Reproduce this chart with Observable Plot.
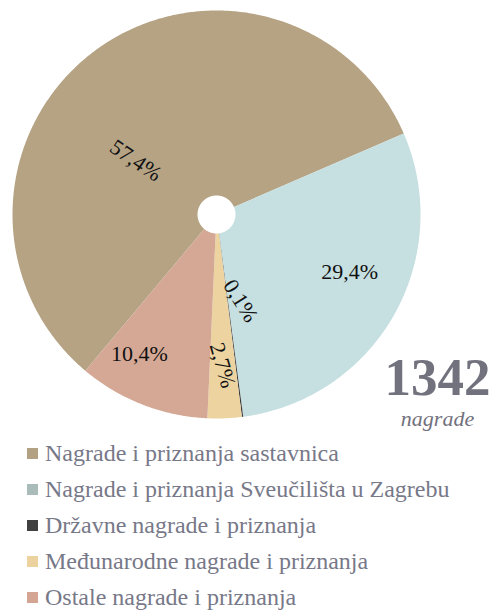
<!DOCTYPE html>
<html>
<head>
<meta charset="utf-8">
<script src="https://cdn.jsdelivr.net/npm/d3@7"></script>
<script src="https://cdn.jsdelivr.net/npm/@observablehq/plot@0.6"></script>
<style>
  html, body { margin: 0; padding: 0; background: #fff; }
  #chart { width: 491px; }
  .legend { font-family: "Liberation Serif", "Times New Roman", serif; font-size: 24px; color: #777888; padding-top: 0; }
  .legend .row { display: flex; align-items: center; height: 35.8px; }
  .legend .sw { width: 11px; height: 11px; margin-left: 27px; margin-right: 7px; flex: none; }
</style>
</head>
<body>
<div id="chart"></div>
<script>
// ---- data ----
const categories = [
  "Nagrade i priznanja sastavnica",
  "Nagrade i priznanja Sveučilišta u Zagrebu",
  "Državne nagrade i priznanja",
  "Međunarodne nagrade i priznanja",
  "Ostale nagrade i priznanja"
];
const values = [57.4, 29.4, 0.1, 2.7, 10.4];
const valueLabels = ["57,4%", "29,4%", "0,1%", "2,7%", "10,4%"];
const sliceColors = ["#b5a384", "#c6dfe0", "#3a3a3a", "#ecd3a0", "#d5a895"];
const legendColors = ["#b3a183", "#a9bcb9", "#404040", "#ebd29f", "#d4a592"];
const totalValue = "1342";
const totalLabel = "nagrade";

// ---- layout (not data) ----
const W = 491, H = 436;
const cx = 216, cy = 214, R = 204, holeR = 19;
const startAngle = 220; // degrees clockwise from north
// label placement: [angle (deg, clockwise from north), radius fraction, rotation]
const labelLayout = [[303.7, 0.476, 34], [113.2, 0.71, 0], [164.4, 0.44, 58], [177.7, 0.74, 74], [209, 0.78, 0]];

const total = d3.sum(values);
const rad = a => a * Math.PI / 180;
const pts = [];
let a0 = startAngle;
values.forEach((v, i) => {
  const a1 = a0 + v / total * 360;
  const steps = Math.max(2, Math.ceil((a1 - a0) / 0.5));
  for (let s = 0; s <= steps; s++) {
    const a = a0 + (a1 - a0) * s / steps;
    pts.push({cat: categories[i], color: sliceColors[i], x: Math.sin(rad(a)), y: Math.cos(rad(a))});
  }
  const r0 = holeR / R;
  for (let s = steps; s >= 0; s--) {
    const a = a0 + (a1 - a0) * s / steps;
    pts.push({cat: categories[i], color: sliceColors[i], x: r0 * Math.sin(rad(a)), y: r0 * Math.cos(rad(a))});
  }
  a0 = a1;
});

const labels = valueLabels.map((t, i) => {
  const [ang, rf, rot] = labelLayout[i];
  return {text: t, x: rf * Math.sin(rad(ang)), y: rf * Math.cos(rad(ang)), rotate: rot};
});

const plot = Plot.plot({
  width: W, height: H,
  margin: 0,
  x: {domain: [-cx / R, (W - cx) / R], axis: null},
  y: {domain: [-(H - cy) / R, cy / R], axis: null},
  color: {type: "identity"},
  style: {fontFamily: "'Liberation Serif', 'Times New Roman', serif", background: "white"},
  marks: [
    Plot.line(pts, {x: "x", y: "y", z: "cat", fill: "color", stroke: "none"}),
    Plot.text(labels, {x: "x", y: "y", text: "text", rotate: "rotate", fontSize: 22, fill: "#111"}),
    Plot.text([totalValue], {frameAnchor: "top-left", dx: 437, dy: 357, text: d => d, fontSize: 53, fontWeight: "bold", fill: "#72717e", textAnchor: "middle"}),
    Plot.text([totalLabel], {frameAnchor: "top-left", dx: 437, dy: 410, text: d => d, fontSize: 22, fontStyle: "italic", fill: "#72717e", textAnchor: "middle", letterSpacing: 2.5})
  ]
});
document.getElementById("chart").appendChild(plot);

const legend = document.createElement("div");
legend.className = "legend";
categories.forEach((c, i) => {
  const row = document.createElement("div");
  row.className = "row";
  const sw = document.createElement("span");
  sw.className = "sw";
  sw.style.background = legendColors[i];
  const tx = document.createElement("span");
  tx.textContent = c;
  row.appendChild(sw); row.appendChild(tx);
  legend.appendChild(row);
});
document.getElementById("chart").appendChild(legend);
</script>
</body>
</html>
